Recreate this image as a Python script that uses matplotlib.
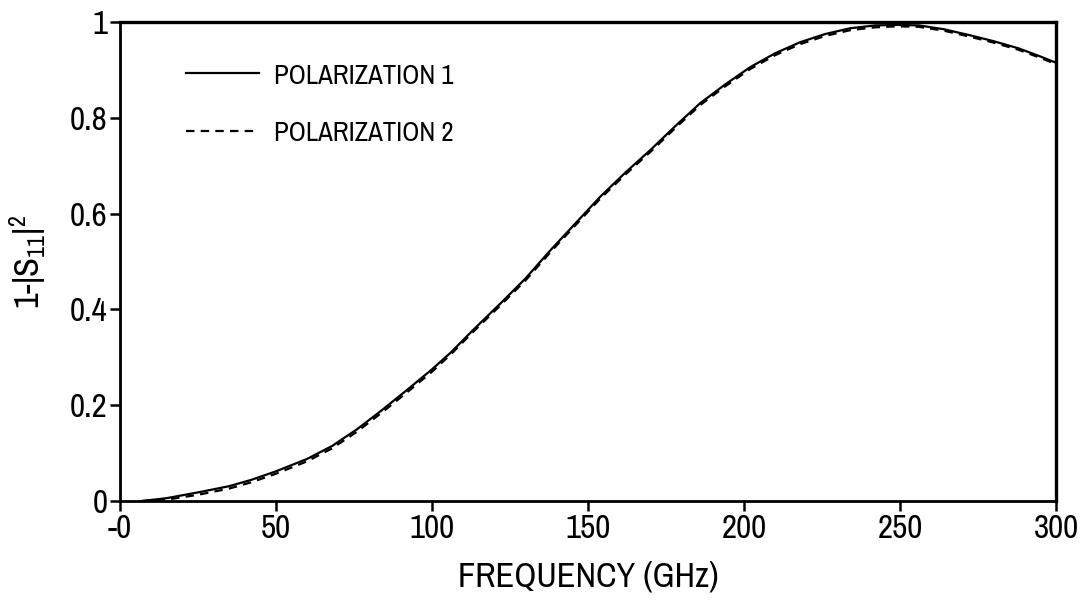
import matplotlib
matplotlib.use("Agg")
import matplotlib.pyplot as plt

plt.rcParams['font.family'] = ['Pragati Narrow', 'Liberation Sans', 'DejaVu Sans']
plt.rcParams['mathtext.default'] = 'regular'

# frequency (GHz) and 1-|S11|^2
freq = [7, 15, 25, 35, 42, 50, 60, 68, 76, 84, 92, 100, 106, 113, 122, 130, 138,
        146, 154, 162, 170, 178, 186, 194, 202, 210, 218, 226, 234, 242, 249,
        256, 264, 272, 280, 288, 295, 300]
pol1 = [0.0, 0.006, 0.018, 0.031, 0.044, 0.062, 0.088, 0.115, 0.150, 0.190,
        0.232, 0.275, 0.310, 0.356, 0.413, 0.465, 0.524, 0.580, 0.636, 0.686,
        0.733, 0.783, 0.831, 0.870, 0.906, 0.935, 0.958, 0.975, 0.987, 0.993,
        0.994, 0.993, 0.985, 0.973, 0.960, 0.945, 0.928, 0.915]
pol2 = [0.0, 0.003, 0.013, 0.026, 0.039, 0.057, 0.083, 0.110, 0.145, 0.185,
        0.227, 0.270, 0.306, 0.352, 0.409, 0.461, 0.520, 0.576, 0.632, 0.682,
        0.729, 0.779, 0.827, 0.866, 0.902, 0.931, 0.954, 0.971, 0.983, 0.989,
        0.991, 0.990, 0.982, 0.970, 0.957, 0.942, 0.925, 0.912]

xticks = [0, 50, 100, 150, 200, 250, 300]
xtick_labels = ['-0', '50', '100', '150', '200', '250', '300']
yticks = [0, 0.2, 0.4, 0.6, 0.8, 1.0]
ytick_labels = ['0', '0.2', '0.4', '0.6', '0.8', '1']

fig = plt.figure(figsize=(10.81, 6.04), dpi=100)
ax = fig.add_axes([0.111, 0.1705, 0.866, 0.793])

ax.plot(freq, pol1, color='black', linewidth=1.6, label='POLARIZATION 1')
ax.plot(freq, pol2, color='black', linewidth=1.6, dashes=(3.8, 2.8), label='POLARIZATION 2')

ax.set_xlim(0, 300)
ax.set_ylim(0, 1)
ax.set_xticks(xticks)
ax.set_xticklabels(xtick_labels)
ax.set_yticks(yticks)
ax.set_yticklabels(ytick_labels)
ax.tick_params(direction='out', length=7, width=1.8, labelsize=26, pad=2,
               top=False, right=False)

for side in ['left', 'bottom']:
    ax.spines[side].set_linewidth(2.0)
for side in ['top', 'right']:
    ax.spines[side].set_linewidth(2.4)

ax.set_xlabel('FREQUENCY (GHz)', fontsize=27, labelpad=12)
ax.set_ylabel('1-|S$_{11}$|$^2$', fontsize=27, labelpad=16)

ax.legend(frameon=False, loc='upper left', bbox_to_anchor=(0.043, 0.969),
          fontsize=21, handlelength=2.5, handletextpad=0.5, labelspacing=1.1)

fig.savefig('out.png', dpi=100)
plt.close(fig)
